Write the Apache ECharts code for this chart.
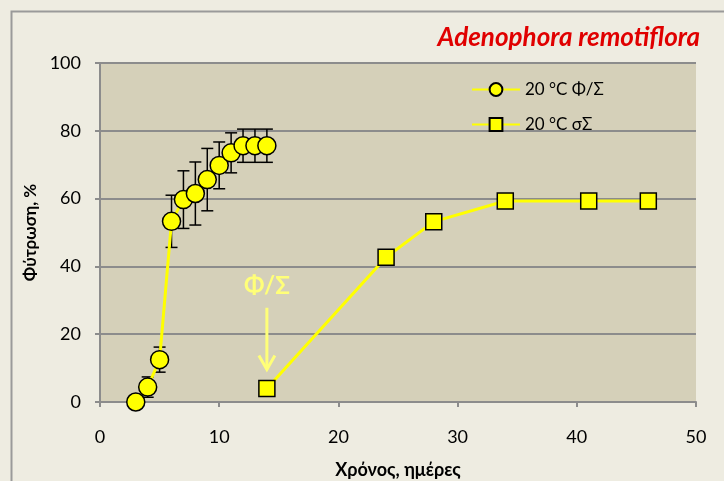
<!DOCTYPE html>
<html>
<head>
<meta charset="utf-8">
<script src="https://cdn.jsdelivr.net/npm/echarts@6/dist/echarts.min.js"></script>
<style>html,body{margin:0;padding:0;background:#EEECE1;}#c{width:724px;height:481px;}</style>
</head>
<body>
<div id="c"></div>
<script>
// Data
const titleText = 'Adenophora remotiflora';
const xAxisName = 'Χρόνος, ημέρες';
const yAxisName = 'Φύτρωση, %';
const seriesNames = ['20 °C Φ/Σ', '20 °C σΣ'];
const days1 = [3, 4, 5, 6, 7, 8, 9, 10, 11, 12, 13, 14];
const germ1 = [0, 4.4, 12.5, 53.3, 59.7, 61.5, 65.6, 69.8, 73.5, 75.6, 75.6, 75.6];
const err1  = [0, 3, 3.7, 7.7, 8.5, 9.3, 9.2, 6.9, 5.9, 4.9, 4.9, 4.9];
const days2 = [14, 24, 28, 34, 41, 46];
const germ2 = [4, 42.7, 53.2, 59.3, 59.3, 59.3];
const annotText = 'Φ/Σ';
const annotX = 14;
const annotTextY = 34;
const annotArrowFrom = 27.8;
const annotArrowTo = 9.6;

const chart = echarts.init(document.getElementById('c'), null, {renderer: 'canvas'});
const font = 'Lato, "Open Sans", "DejaVu Sans", sans-serif';

const s1 = days1.map((d, i) => [d, germ1[i]]);
const s2 = days2.map((d, i) => [d, germ2[i]]);
const eb = days1.map((d, i) => [d, germ1[i] - err1[i], germ1[i] + err1[i]]).filter(r => r[2] - r[1] > 0.01);

chart.setOption({
  backgroundColor: '#EEECE1',
  animation: false,
  textStyle: {fontFamily: font},
  graphic: [{
    type: 'rect', shape: {x: 11.5, y: 11.5, width: 740, height: 500},
    style: {fill: 'none', stroke: '#9A9A9A', lineWidth: 2}, z: -1
  }],
  title: {
    text: titleText, right: 19, top: 20,
    textStyle: {color: '#E00000', fontSize: 26, fontWeight: 'bold', fontStyle: 'italic', fontFamily: font}
  },
  legend: {
    orient: 'vertical', left: 466, top: 76, itemWidth: 48, itemHeight: 16, itemGap: 18,
    textStyle: {fontSize: 17, color: '#000', fontFamily: font},
    data: seriesNames
  },
  grid: {left: 100, right: 28, top: 63, bottom: 79, show: true, backgroundColor: '#D5D0B9', borderWidth: 0,
         containLabel: false, outerBoundsMode: 'none'},
  xAxis: {
    type: 'value', min: 0, max: 50, interval: 10,
    name: xAxisName, nameLocation: 'middle', nameGap: 59,
    nameTextStyle: {fontSize: 18, fontWeight: 'bold', color: '#000', fontFamily: font},
    axisLine: {show: true, onZero: false, lineStyle: {color: '#8C8C8C', width: 2}},
    axisTick: {show: true, length: 5, lineStyle: {color: '#8C8C8C', width: 2}},
    axisLabel: {fontSize: 18, color: '#000', margin: 26},
    splitLine: {show: false}
  },
  yAxis: {
    type: 'value', min: 0, max: 100, interval: 20,
    name: yAxisName, nameLocation: 'middle', nameGap: 60, nameRotate: 90,
    nameTextStyle: {fontSize: 17, fontWeight: 'bold', color: '#000', fontFamily: font},
    axisLine: {show: true, lineStyle: {color: '#8C8C8C', width: 2}},
    axisTick: {show: true, length: 5, lineStyle: {color: '#8C8C8C', width: 2}},
    axisLabel: {fontSize: 18, color: '#000', margin: 19},
    splitLine: {show: true, lineStyle: {color: '#8C8C8C', width: 2}}
  },
  series: [
    {
      name: seriesNames[0], type: 'line', data: s1, z: 4,
      symbol: 'circle', symbolSize: 18,
      lineStyle: {color: '#FFFF00', width: 3},
      itemStyle: {color: '#FFFF00', borderColor: '#000', borderWidth: 1.5}
    },
    {
      name: seriesNames[1], type: 'line', data: s2, z: 4,
      symbol: 'rect', symbolSize: 16,
      lineStyle: {color: '#FFFF00', width: 3},
      itemStyle: {color: '#FFFF00', borderColor: '#000', borderWidth: 1.5}
    },
    {
      type: 'custom', data: eb, z: 3, silent: true,
      renderItem: function (params, api) {
        const x = api.value(0);
        const lo = api.coord([x, api.value(1)]);
        const hi = api.coord([x, api.value(2)]);
        const w = 6;
        const st = {stroke: '#000', lineWidth: 1.5};
        return {type: 'group', children: [
          {type: 'line', shape: {x1: lo[0], y1: lo[1], x2: hi[0], y2: hi[1]}, style: st},
          {type: 'line', shape: {x1: lo[0] - w, y1: lo[1], x2: lo[0] + w, y2: lo[1]}, style: st},
          {type: 'line', shape: {x1: hi[0] - w, y1: hi[1], x2: hi[0] + w, y2: hi[1]}, style: st}
        ]};
      }
    },
    {
      type: 'custom', data: [[annotX, annotTextY, annotArrowFrom, annotArrowTo]], z: 5, silent: true,
      renderItem: function (params, api) {
        const x = api.value(0);
        const t = api.coord([x, api.value(1)]);
        const a = api.coord([x, api.value(2)]);
        const b = api.coord([x, api.value(3)]);
        const col = '#FFFF78';
        return {type: 'group', children: [
          {type: 'text', style: {x: t[0], y: t[1], text: annotText, fill: col, fontSize: 24, fontWeight: 'bold', fontFamily: font, align: 'center', verticalAlign: 'middle'}},
          {type: 'line', shape: {x1: a[0], y1: a[1], x2: b[0], y2: b[1]}, style: {stroke: col, lineWidth: 3}},
          {type: 'polyline', shape: {points: [[b[0] - 8, b[1] - 14], [b[0], b[1]], [b[0] + 8, b[1] - 14]]}, style: {stroke: col, lineWidth: 3, fill: 'none'}}
        ]};
      }
    }
  ]
});
</script>
</body>
</html>
